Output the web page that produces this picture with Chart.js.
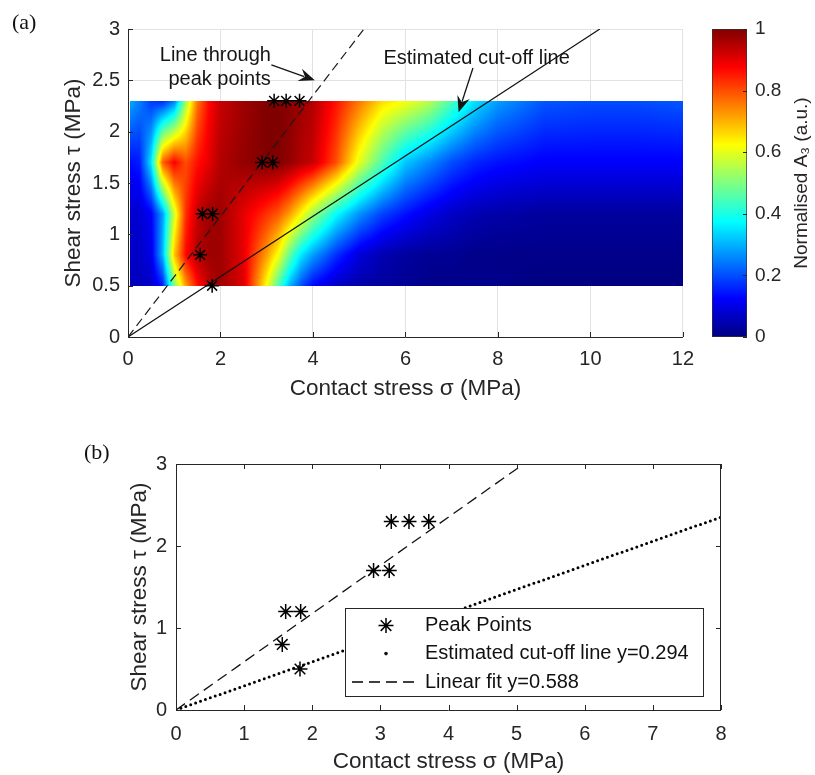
<!DOCTYPE html>
<html lang="en">
<head>
<meta charset="UTF-8">
<title>Normalised A3 over contact and shear stress</title>
<script src="https://cdn.jsdelivr.net/npm/chart.js"></script>
<style>
  body { margin: 0; background: #fff; width: 815px; height: 775px; position: relative; overflow: hidden; }
  canvas { position: absolute; }
  #mapA { left: 0; top: 0; }
  #bar { left: 700px; top: 0; }
  #fitB { left: 0; top: 405px; }
  .tag { position: absolute; font-family: "Liberation Serif", "DejaVu Serif", serif; font-size: 22px; line-height: 1; color: #111; }
</style>
</head>
<body>
<canvas id="mapA" width="704" height="405"></canvas>
<canvas id="bar" width="115" height="405"></canvas>
<canvas id="fitB" width="815" height="370"></canvas>
<div class="tag" style="left:12px;top:11px">(a)</div>
<div class="tag" style="left:84px;top:441px">(b)</div>

<script>
// ---- data ----
// contact stress columns of the A3 map (MPa)
const sigmaGrid = [0, 0.25, 0.5, 0.75, 1, 1.25, 1.5, 1.75, 2, 2.5, 3, 3.25, 3.5, 3.75, 4, 4.5, 5, 5.5, 6, 6.5, 7, 7.5, 8, 9, 10, 11, 12];
// shear stress rows of the A3 map (MPa)
const tauRows = [0.5, 0.8, 1.2, 1.7, 2.3];
// normalised A3, one array per shear stress row
const a3Tau05 = [0.06, 0.06, 0.07, 0.15, 0.5, 0.72, 0.86, 0.94, 0.97, 0.91, 0.62, 0.45, 0.3, 0.2, 0.13, 0.07, 0.04, 0.03, 0.02, 0.01, 0.01, 0.01, 0.01, 0, 0, 0, 0];
const a3Tau08 = [0.07, 0.07, 0.1, 0.3, 0.68, 0.87, 0.95, 0.97, 0.97, 0.9, 0.72, 0.62, 0.47, 0.35, 0.28, 0.17, 0.09, 0.05, 0.03, 0.02, 0.02, 0.01, 0.01, 0.01, 0.01, 0.01, 0.01];
const a3Tau12 = [0.08, 0.08, 0.12, 0.28, 0.58, 0.83, 0.93, 0.97, 0.97, 0.9, 0.83, 0.79, 0.72, 0.63, 0.53, 0.38, 0.27, 0.19, 0.14, 0.1, 0.07, 0.05, 0.04, 0.03, 0.03, 0.03, 0.03];
const a3Tau17 = [0.13, 0.15, 0.35, 0.78, 0.88, 0.8, 0.86, 0.9, 0.95, 0.98, 1.0, 1.0, 0.98, 0.95, 0.93, 0.8, 0.6, 0.45, 0.32, 0.26, 0.2, 0.16, 0.14, 0.12, 0.12, 0.12, 0.12];
const a3Tau23 = [0.3, 0.25, 0.18, 0.16, 0.24, 0.53, 0.76, 0.87, 0.93, 0.97, 1.0, 1.0, 0.99, 0.97, 0.95, 0.86, 0.76, 0.66, 0.62, 0.56, 0.45, 0.35, 0.28, 0.21, 0.2, 0.2, 0.21];
const a3Rows = [a3Tau05, a3Tau08, a3Tau12, a3Tau17, a3Tau23];

// peak points
const peakSigma = [1.82, 1.56, 1.61, 1.83, 2.9, 3.13, 3.16, 3.42, 3.71];
const peakTau = [0.5, 0.8, 1.2, 1.2, 1.7, 1.7, 2.3, 2.3, 2.3];

// slopes of the two lines through the origin
const fitSlope = 0.588;
const cutoffSlope = 0.294;

// tick labels
const xTicksA = [0, 2, 4, 6, 8, 10, 12];
const yTicksA = [0, 0.5, 1, 1.5, 2, 2.5, 3];
const cbTicks = [0, 0.2, 0.4, 0.6, 0.8, 1];
const xTicksB = [0, 1, 2, 3, 4, 5, 6, 7, 8];
const yTicksB = [0, 1, 2, 3];

// annotation texts and arrows of panel (a), in data units
const notes = [
  { text: 'Line through', sigma: 1.89, tau: 2.69 },
  { text: 'peak points', sigma: 1.98, tau: 2.45 },
  { text: 'Estimated cut-off line', sigma: 7.54, tau: 2.66 }
];
const arrows = [
  { from: [3.1, 2.65], to: [4.04, 2.5] },
  { from: [7.46, 2.62], to: [7.15, 2.19] }
];

// ---- helpers ----
const INK = '#262626';
const FONT = '"Liberation Sans", Arial, sans-serif';
Chart.defaults.font.family = FONT;
Chart.defaults.color = INK;

function jet(v) {
  const c = t => Math.round(255 * Math.max(0, Math.min(1, t)));
  return [c(1.5 - Math.abs(4 * v - 3)), c(1.5 - Math.abs(4 * v - 2)), c(1.5 - Math.abs(4 * v - 1))];
}

// bilinear lookup in the grid (like shading interp)
function a3At(s, t) {
  let i = 0;
  while (i < sigmaGrid.length - 2 && s > sigmaGrid[i + 1]) i++;
  let j = 0;
  while (j < tauRows.length - 2 && t > tauRows[j + 1]) j++;
  const fs = Math.max(0, Math.min(1, (s - sigmaGrid[i]) / (sigmaGrid[i + 1] - sigmaGrid[i])));
  const ft = Math.max(0, Math.min(1, (t - tauRows[j]) / (tauRows[j + 1] - tauRows[j])));
  const lo = a3Rows[j], hi = a3Rows[j + 1];
  const a = lo[i] + (lo[i + 1] - lo[i]) * fs;
  const b = hi[i] + (hi[i + 1] - hi[i]) * fs;
  return a + (b - a) * ft;
}

function fixTicks(list) {
  return s => { s.ticks = list.map(v => ({ value: v })); };
}

// inward tick marks + axis lines, MATLAB style
function drawFrame(chart, sides, len) {
  const { ctx, chartArea: ca, scales: { x, y } } = chart;
  ctx.save();
  ctx.strokeStyle = INK;
  ctx.lineWidth = 1;
  ctx.beginPath();
  if (sides.includes('b')) { ctx.moveTo(ca.left, ca.bottom + 0.5); ctx.lineTo(ca.right, ca.bottom + 0.5); }
  if (sides.includes('l')) { ctx.moveTo(ca.left + 0.5, ca.top); ctx.lineTo(ca.left + 0.5, ca.bottom); }
  if (sides.includes('t')) { ctx.moveTo(ca.left, ca.top + 0.5); ctx.lineTo(ca.right, ca.top + 0.5); }
  if (sides.includes('r')) { ctx.moveTo(ca.right - 0.5, ca.top); ctx.lineTo(ca.right - 0.5, ca.bottom); }
  x.ticks.forEach(t => {
    const px = Math.round(x.getPixelForValue(t.value)) + 0.5;
    if (sides.includes('b')) { ctx.moveTo(px, ca.bottom); ctx.lineTo(px, ca.bottom - len); }
    if (sides.includes('t')) { ctx.moveTo(px, ca.top); ctx.lineTo(px, ca.top + len); }
  });
  y.ticks.forEach(t => {
    const py = Math.round(y.getPixelForValue(t.value)) + 0.5;
    if (sides.includes('l')) { ctx.moveTo(ca.left, py); ctx.lineTo(ca.left + len, py); }
    if (sides.includes('r')) { ctx.moveTo(ca.right, py); ctx.lineTo(ca.right - len, py); }
  });
  ctx.stroke();
  ctx.restore();
}

function lineTo(slope, yMax) {
  return [{ x: 0, y: 0 }, { x: yMax / slope, y: yMax }];
}

const peakPoints = peakSigma.map((s, i) => ({ x: s, y: peakTau[i] }));

// ---- panel (a): A3 map ----
const heatmap = {
  id: 'heatmap',
  beforeDatasetsDraw(chart) {
    const { ctx, scales: { x, y } } = chart;
    const left = Math.round(x.getPixelForValue(sigmaGrid[0])) + 2;
    const right = Math.round(x.getPixelForValue(sigmaGrid[sigmaGrid.length - 1]));
    const top = Math.round(y.getPixelForValue(tauRows[tauRows.length - 1]));
    const bottom = Math.round(y.getPixelForValue(tauRows[0]));
    const w = right - left, h = bottom - top;
    const off = document.createElement('canvas');
    off.width = w; off.height = h;
    const octx = off.getContext('2d');
    const img = octx.createImageData(w, h);
    for (let py = 0; py < h; py++) {
      const t = y.getValueForPixel(top + py + 0.5);
      for (let px = 0; px < w; px++) {
        const s = x.getValueForPixel(left + px + 0.5);
        const c = jet(a3At(s, t));
        const k = (py * w + px) * 4;
        img.data[k] = c[0]; img.data[k + 1] = c[1]; img.data[k + 2] = c[2]; img.data[k + 3] = 255;
      }
    }
    octx.putImageData(img, 0, 0);
    ctx.drawImage(off, left, top);
  }
};

const notesPlugin = {
  id: 'notes',
  afterDraw(chart) {
    const { ctx, scales: { x, y } } = chart;
    drawFrame(chart, 'bl', 5);
    ctx.save();
    ctx.fillStyle = '#151515';
    ctx.font = '20px ' + FONT;
    ctx.textAlign = 'center';
    ctx.textBaseline = 'alphabetic';
    notes.forEach(n => ctx.fillText(n.text, x.getPixelForValue(n.sigma), y.getPixelForValue(n.tau)));
    ctx.strokeStyle = '#151515';
    ctx.lineWidth = 1.3;
    arrows.forEach(a => {
      const x0 = x.getPixelForValue(a.from[0]), y0 = y.getPixelForValue(a.from[1]);
      const x1 = x.getPixelForValue(a.to[0]), y1 = y.getPixelForValue(a.to[1]);
      const ang = Math.atan2(y1 - y0, x1 - x0);
      const L = 16, W = 6.5;
      ctx.beginPath();
      ctx.moveTo(x0, y0);
      ctx.lineTo(x1 - Math.cos(ang) * L * 0.7, y1 - Math.sin(ang) * L * 0.7);
      ctx.stroke();
      ctx.save();
      ctx.translate(x1, y1);
      ctx.rotate(ang);
      ctx.beginPath();
      ctx.moveTo(0, 0);
      ctx.lineTo(-L, -W);
      ctx.lineTo(-L * 0.65, 0);
      ctx.lineTo(-L, W);
      ctx.closePath();
      ctx.fill();
      ctx.restore();
    });
    ctx.restore();
  }
};

new Chart(document.getElementById('mapA'), {
  type: 'scatter',
  data: {
    datasets: [
      { label: 'Peak Points', data: peakPoints, pointStyle: 'star', pointRadius: 7, pointBorderWidth: 1.5, borderColor: '#000', backgroundColor: '#000' },
      { label: 'Line through peak points', type: 'line', data: lineTo(fitSlope, 3), borderColor: '#1a1a1a', borderWidth: 1.2, borderDash: [9, 5], pointRadius: 0, fill: false },
      { label: 'Estimated cut-off line', type: 'line', data: lineTo(cutoffSlope, 3), borderColor: '#111', borderWidth: 1.2, pointRadius: 0, fill: false }
    ]
  },
  options: {
    responsive: false, animation: false, devicePixelRatio: 1,
    // the right edge is set by the last tick label (half width + tick padding)
    layout: { padding: { left: 0, top: 29, right: 0, bottom: 0 } },
    plugins: { legend: { display: false }, tooltip: { enabled: false } },
    scales: {
      x: {
        type: 'linear', min: 0, max: 12,
        afterBuildTicks: fixTicks(xTicksA),
        afterFit: s => { s.height = 68; },
        grid: { color: '#e2e2e2', drawTicks: false },
        border: { display: false },
        ticks: { padding: 10, autoSkip: false, maxRotation: 0, font: { size: 20 }, callback: v => String(v) },
        title: { display: true, text: 'Contact stress σ (MPa)', font: { size: 22.5 }, padding: { top: 0, bottom: 2.5 } }
      },
      y: {
        type: 'linear', min: 0, max: 3,
        afterBuildTicks: fixTicks(yTicksA),
        afterFit: s => { s.width = 128; },
        grid: { color: '#e2e2e2', drawTicks: false },
        border: { display: false },
        ticks: { padding: 8, autoSkip: false, font: { size: 20 }, callback: v => String(v) },
        title: { display: true, text: 'Shear stress τ (MPa)', font: { size: 22.5 }, padding: { top: 60, bottom: 0 } }
      }
    }
  },
  plugins: [heatmap, notesPlugin]
});

// ---- colour bar ----
const barTitle = {
  id: 'barTitle',
  afterDraw(chart) {
    const { ctx, chartArea: ca, scales: { y } } = chart;
    ctx.save();
    ctx.strokeStyle = INK;
    ctx.lineWidth = 1;
    ctx.beginPath();
    y.ticks.forEach(t => {
      const py = Math.round(y.getPixelForValue(t.value)) + 0.5;
      ctx.moveTo(ca.right, py); ctx.lineTo(ca.right - 4, py);
    });
    ctx.stroke();
    ctx.translate(ca.right + 55, (ca.top + ca.bottom) / 2);
    ctx.rotate(-Math.PI / 2);
    ctx.fillStyle = INK;
    ctx.font = '19px ' + FONT;
    ctx.textAlign = 'center';
    ctx.textBaseline = 'middle';
    ctx.fillText('Normalised A₃ (a.u.)', 0, 0);
    ctx.restore();
  }
};

new Chart(document.getElementById('bar'), {
  type: 'bar',
  data: {
    labels: ['A3'],
    datasets: [{
      data: [[cbTicks[0], cbTicks[cbTicks.length - 1]]],
      barPercentage: 1, categoryPercentage: 1,
      borderColor: '#333', borderWidth: 1, borderSkipped: false,
      backgroundColor: c => {
        const ca = c.chart.chartArea;
        if (!ca) return '#000080';
        const g = c.chart.ctx.createLinearGradient(0, ca.bottom, 0, ca.top);
        for (let i = 0; i <= 64; i++) {
          const col = jet(i / 64);
          g.addColorStop(i / 64, `rgb(${col[0]},${col[1]},${col[2]})`);
        }
        return g;
      }
    }]
  },
  options: {
    responsive: false, animation: false, devicePixelRatio: 1,
    layout: { padding: { left: 12, top: 29, right: 0, bottom: 68 } },
    plugins: { legend: { display: false }, tooltip: { enabled: false } },
    scales: {
      x: { display: false },
      y: {
        position: 'right', min: 0, max: 1,
        afterBuildTicks: fixTicks(cbTicks),
        afterFit: s => { s.width = 68; },
        grid: { display: false, drawTicks: false },
        border: { display: false },
        ticks: { padding: 8, autoSkip: false, font: { size: 19 }, callback: v => String(v) }
      }
    }
  },
  plugins: [barTitle]
});

// ---- panel (b): peak points and fitted lines ----
const boxLegend = {
  id: 'boxLegend',
  afterDraw(chart) {
    const { ctx, chartArea: ca } = chart;
    drawFrame(chart, 'bltr', 5);
    const w = 358, h = 88;
    const left = ca.right - 18 - w, top = ca.bottom - 14 - h;
    ctx.save();
    ctx.fillStyle = '#fff';
    ctx.fillRect(left, top, w, h);
    ctx.strokeStyle = INK;
    ctx.lineWidth = 1;
    ctx.strokeRect(left + 0.5, top + 0.5, w, h);
    ctx.font = '20px ' + FONT;
    ctx.fillStyle = '#111';
    ctx.textBaseline = 'middle';
    const rows = [top + 17.6, top + 45.6, top + 74];
    const ds = chart.data.datasets;
    // star
    ctx.strokeStyle = '#000';
    ctx.lineWidth = 1.5;
    Chart.helpers.drawPoint(ctx, { pointStyle: 'star', radius: 7.5, borderWidth: 1.5 }, left + 41, rows[0]);
    // dot
    ctx.beginPath();
    ctx.arc(left + 41, rows[1], 1.8, 0, Math.PI * 2);
    ctx.fill();
    // dashes
    ctx.setLineDash([11, 6]);
    ctx.lineWidth = 1.3;
    ctx.beginPath();
    ctx.moveTo(left + 7, rows[2]);
    ctx.lineTo(left + 73, rows[2]);
    ctx.stroke();
    ctx.setLineDash([]);
    ds.forEach((d, i) => ctx.fillText(d.label, left + 80, rows[i]));
    ctx.restore();
  }
};

new Chart(document.getElementById('fitB'), {
  type: 'scatter',
  data: {
    datasets: [
      { label: 'Peak Points', data: peakPoints, pointStyle: 'star', pointRadius: 7.5, pointBorderWidth: 1.5, borderColor: '#000', backgroundColor: '#000' },
      { label: 'Estimated cut-off line y=' + cutoffSlope, type: 'line', data: lineTo(cutoffSlope, cutoffSlope * 8), borderColor: '#000', borderWidth: 3, borderDash: [0, 5.2], borderCapStyle: 'round', pointRadius: 0, fill: false },
      { label: 'Linear fit y=' + fitSlope, type: 'line', data: lineTo(fitSlope, 3), borderColor: '#111', borderWidth: 1.3, borderDash: [11, 6], pointRadius: 0, fill: false }
    ]
  },
  options: {
    responsive: false, animation: false, devicePixelRatio: 1,
    layout: { padding: { left: 0, top: 59, right: 94, bottom: 0 } },
    plugins: { legend: { display: false }, tooltip: { enabled: false } },
    scales: {
      x: {
        type: 'linear', min: 0, max: 8,
        afterBuildTicks: fixTicks(xTicksB),
        afterFit: s => { s.height = 65; },
        grid: { display: false, drawTicks: false },
        border: { display: false },
        ticks: { padding: 12, autoSkip: false, maxRotation: 0, font: { size: 20 }, callback: v => String(v) },
        title: { display: true, text: 'Contact stress σ (MPa)', font: { size: 22.5 }, padding: { top: 0, bottom: 0 } }
      },
      y: {
        type: 'linear', min: 0, max: 3,
        afterBuildTicks: fixTicks(yTicksB),
        afterFit: s => { s.width = 176; },
        grid: { display: false, drawTicks: false },
        border: { display: false },
        ticks: { padding: 9, autoSkip: false, font: { size: 20 }, callback: v => String(v) },
        title: { display: true, text: 'Shear stress τ (MPa)', font: { size: 22.5 }, padding: { top: 126, bottom: 0 } }
      }
    }
  },
  plugins: [boxLegend]
});
</script>
</body>
</html>
